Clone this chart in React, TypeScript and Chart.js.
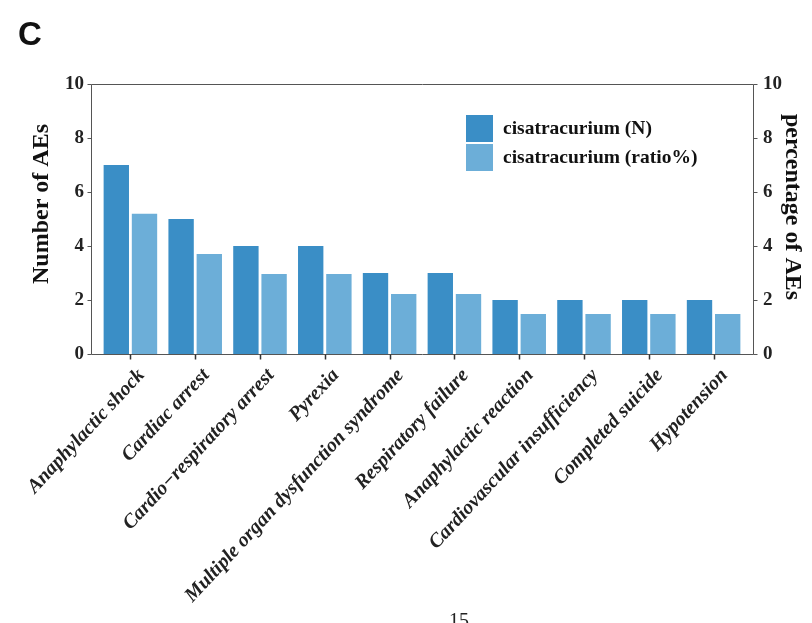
import React, { useEffect, useRef } from "react";
import { Chart, registerables } from "chart.js";

Chart.register(...registerables);

const categories = [
  "Anaphylactic shock",
  "Cardiac arrest",
  "Cardio\u2212respiratory arrest",
  "Pyrexia",
  "Multiple organ dysfunction syndrome",
  "Respiratory failure",
  "Anaphylactic reaction",
  "Cardiovascular insufficiency",
  "Completed suicide",
  "Hypotension",
];
const countN = [7, 5, 4, 4, 3, 3, 2, 2, 2, 2];
const ratioPct = [5.19, 3.7, 2.96, 2.96, 2.22, 2.22, 1.48, 1.48, 1.48, 1.48];
const yTicks = [0, 2, 4, 6, 8, 10];
const seriesLabels = ["cisatracurium (N)", "cisatracurium (ratio%)"];
const leftTitle = "Number of AEs";
const rightTitle = "percentage of AEs";

const DARK = "#3a8ec6";
const LIGHT = "#6caed8";
const SERIF = "'Liberation Serif', 'Times New Roman', serif";

const framePlugin = {
  id: "frame",
  afterDatasetsDraw(chart: any) {
    const { ctx, chartArea } = chart;
    const { left, right, top, bottom } = chartArea;
    const L = Math.round(left - 7) + 0.5;
    const R = Math.round(right + 7) + 0.5;
    const T = Math.round(top) + 0.5;
    const B = Math.round(bottom) + 0.5;
    ctx.save();
    ctx.strokeStyle = "#555";
    ctx.lineWidth = 1;
    ctx.beginPath();
    ctx.moveTo(L, T);
    ctx.lineTo(R, T);
    ctx.lineTo(R, B);
    ctx.lineTo(L, B);
    ctx.closePath();
    ctx.stroke();
    const ys = chart.scales.y;
    ctx.beginPath();
    yTicks.forEach((v) => {
      const py = Math.round(ys.getPixelForValue(v)) + 0.5;
      ctx.moveTo(L - 4, py);
      ctx.lineTo(L, py);
      ctx.moveTo(R, py);
      ctx.lineTo(R + 4, py);
    });
    ctx.stroke();
    const xs = chart.scales.x;
    ctx.strokeStyle = "#333";
    ctx.lineWidth = 1.5;
    ctx.beginPath();
    categories.forEach((_, i) => {
      const px = Math.round(xs.getPixelForValue(i)) + 0.5;
      ctx.moveTo(px, B);
      ctx.lineTo(px, B + 5);
    });
    ctx.stroke();

    // axis titles
    ctx.fillStyle = "#111";
    ctx.font = `bold 24px ${SERIF}`;
    ctx.textAlign = "center";
    ctx.textBaseline = "middle";
    ctx.save();
    ctx.translate(42, 204);
    ctx.rotate(-Math.PI / 2);
    ctx.fillText(leftTitle, 0, 0);
    ctx.restore();
    ctx.save();
    ctx.translate(792, 207);
    ctx.rotate(Math.PI / 2);
    ctx.fillText(rightTitle, 0, 0);
    ctx.restore();

    // legend inside plot
    const lx = right - 280;
    const ly = top + 31;
    const colors = [DARK, LIGHT];
    ctx.font = `bold 19.5px ${SERIF}`;
    ctx.textAlign = "left";
    seriesLabels.forEach((lab, i) => {
      const by = ly + i * 29;
      ctx.fillStyle = colors[i];
      ctx.fillRect(lx, by, 27, 27);
      ctx.fillStyle = "#111";
      ctx.fillText(lab, lx + 37, by + 14);
    });
    ctx.restore();
  },
};

export default function App() {
  const ref = useRef<HTMLCanvasElement | null>(null);
  useEffect(() => {
    document.body.style.margin = "0";
    if (!ref.current) return;
    const tickFont = { family: SERIF, size: 19, weight: "bold" as const };
    const chart = new Chart(ref.current, {
      type: "bar",
      data: {
        labels: categories,
        datasets: [
          {
            label: seriesLabels[0],
            data: countN,
            backgroundColor: DARK,
            yAxisID: "y",
            barPercentage: 0.9,
            categoryPercentage: 0.87,
          },
          {
            label: seriesLabels[1],
            data: ratioPct,
            backgroundColor: LIGHT,
            yAxisID: "y1",
            barPercentage: 0.9,
            categoryPercentage: 0.87,
          },
        ],
      },
      options: {
        responsive: false,
        animation: false,
        layout: { padding: { top: 84, left: 0, right: 0, bottom: 0 } },
        plugins: { legend: { display: false }, tooltip: { enabled: false } },
        scales: {
          x: {
            type: "category",
            offset: true,
            grid: { display: false, drawTicks: false },
            border: { display: false },
            ticks: {
              font: { family: SERIF, size: 20, weight: "bold", style: "italic" },
              color: "#222",
              maxRotation: 47,
              minRotation: 47,
              autoSkip: false,
              padding: 10,
              labelOffset: 11,
            },
            afterFit: (s: any) => {
              s.height = 269;
            },
          },
          y: {
            position: "left",
            min: 0,
            max: 10,
            grid: { display: false, drawTicks: false },
            border: { display: false },
            ticks: { stepSize: 2, font: tickFont, color: "#222", padding: 14 },
            afterFit: (s: any) => {
              s.width = 98;
            },
          },
          y1: {
            position: "right",
            min: 0,
            max: 10,
            grid: { display: false, drawTicks: false },
            border: { display: false },
            ticks: { stepSize: 2, font: tickFont, color: "#222", padding: 17 },
            afterFit: (s: any) => {
              s.width = 66;
            },
          },
        },
      },
      plugins: [framePlugin],
    });
    return () => chart.destroy();
  }, []);

  return (
    <div
      style={{
        position: "relative",
        width: 812,
        height: 623,
        overflow: "hidden",
        background: "#fff",
      }}
    >
      <div
        style={{
          position: "absolute",
          left: 18,
          top: 15,
          fontFamily: "'Liberation Sans', Arial, sans-serif",
          fontWeight: "bold",
          fontSize: 33,
          color: "#111",
        }}
      >
        C
      </div>
      <canvas ref={ref} width={812} height={623} style={{ display: "block" }} />
      <div
        style={{
          position: "absolute",
          left: 449,
          top: 609,
          fontFamily: SERIF,
          fontSize: 20,
          color: "#222",
        }}
      >
        15
      </div>
    </div>
  );
}
